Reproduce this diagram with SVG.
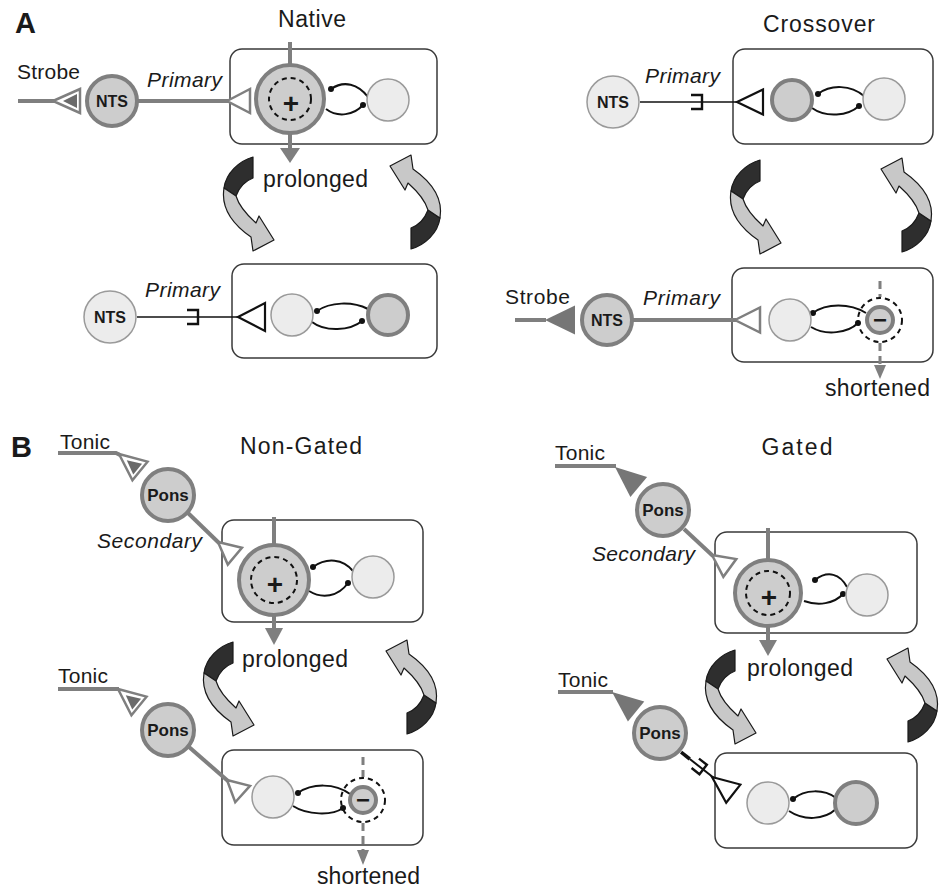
<svg xmlns="http://www.w3.org/2000/svg" width="946" height="890" viewBox="0 0 946 890">
<style>
 text { font-family: "Liberation Sans", Arial, sans-serif; fill: #1a1a1a; }
 .title { font-size: 23px; }
 .lbl { font-size: 23px; }
 .lbs { font-size: 21px; }
 .it { font-size: 21px; font-style: italic; }
 .panel { font-size: 29px; font-weight: bold; }
 .nlab { font-size: 16px; font-weight: bold; }
 .plab { font-size: 17px; font-weight: bold; }
 .sign { font-size: 28px; font-weight: bold; }
 .box { fill: #fff; stroke: #3a3a3a; stroke-width: 1.5; }
 .dk { fill: #cdcdcd; stroke: #7f7f7f; stroke-width: 4; }
 .lt { fill: #ececec; stroke: #9a9a9a; stroke-width: 1.5; }
 .gline { stroke: #7f7f7f; stroke-width: 4; fill: none; }
 .bline { stroke: #111; stroke-width: 1.6; fill: none; }
 .brk { stroke: #111; stroke-width: 2.4; fill: none; }
 .arc { stroke: #111; stroke-width: 2; fill: none; }
 .dash { fill: none; stroke: #111; stroke-width: 2; stroke-dasharray: 5 4; }
 .gdash { stroke: #7f7f7f; stroke-width: 3; stroke-dasharray: 8 5; fill: none; }
 .ghead { fill: #7f7f7f; }
 .dot { fill: #111; }
 .topen { fill: #fff; stroke: #7f7f7f; stroke-width: 2.5; stroke-linejoin: miter; }
 .tblack { fill: #fff; stroke: #111; stroke-width: 2.2; }
 .tin { fill: #6a6a6a; }
 .tfill { fill: #767676; }
 .tw-d { fill: #2e2e2e; stroke: #1a1a1a; stroke-width: 1.2; stroke-linejoin: round; }
 .tw-l { fill: #c8c8c8; stroke: #1a1a1a; stroke-width: 1.2; stroke-linejoin: round; }
</style>
<defs>
 <g id="twist">
  <path class="tw-d" d="M4,-46 L4,-25 C-4,-22 -10,-15 -13,-7 L-25,-15 C-23,-30 -10,-42 4,-46 Z"/>
  <path class="tw-l" d="M-25,-15 C-28,3 -18,20 2,34 L4,48 L25,37 L10,13 L7,20 C-2,12 -10,3 -13,-7 Z"/>
 </g>
 <g id="dtri">
  <polygon class="topen" points="0,0 27,-12 27,12"/>
  <polygon class="tin" points="10,0 24,-7 24,7"/>
 </g>
</defs>

<!-- labels -->
<g id="labels">
 <text class="panel" x="15" y="33">A</text>
 <text class="panel" x="11" y="457">B</text>
 <text class="title" x="312" y="27" text-anchor="middle" textLength="68">Native</text>
 <text class="title" x="819" y="32" text-anchor="middle" textLength="112">Crossover</text>
 <text class="title" x="301" y="454" text-anchor="middle" textLength="122">Non-Gated</text>
 <text class="title" x="797" y="455" text-anchor="middle" textLength="71">Gated</text>
 <text class="lbs" x="17" y="79" textLength="63">Strobe</text>
 <text class="lbs" x="505" y="304" textLength="65">Strobe</text>
 <text class="it" x="147" y="87" textLength="75">Primary</text>
 <text class="it" x="145" y="297" textLength="75">Primary</text>
 <text class="it" x="645" y="83" textLength="75">Primary</text>
 <text class="it" x="643" y="305" textLength="77">Primary</text>
 <text class="lbl" x="263" y="187" textLength="105">prolonged</text>
 <text class="lbl" x="242" y="667" textLength="106">prolonged</text>
 <text class="lbl" x="747" y="676" textLength="106">prolonged</text>
 <text class="lbl" x="825" y="396" textLength="105">shortened</text>
 <text class="lbl" x="317" y="884" textLength="103">shortened</text>
 <text class="lbs" x="60" y="449" textLength="50">Tonic</text>
 <text class="lbs" x="58" y="683" textLength="50">Tonic</text>
 <text class="lbs" x="555" y="460" textLength="50">Tonic</text>
 <text class="lbs" x="558" y="687" textLength="50">Tonic</text>
 <text class="it" x="97" y="548" textLength="105">Secondary</text>
 <text class="it" x="592" y="561" textLength="103">Secondary</text>
</g>

<!-- boxes -->
<g id="boxes">
 <rect id="box-native-1" class="box" x="230" y="49" width="207" height="95" rx="12"/>
 <rect id="box-native-2" class="box" x="232" y="264" width="205" height="94" rx="12"/>
 <rect id="box-cross-1" class="box" x="733" y="49" width="200" height="95" rx="12"/>
 <rect id="box-cross-2" class="box" x="732" y="268" width="201" height="94" rx="12"/>
 <rect id="box-ng-1" class="box" x="222" y="520" width="201" height="102" rx="12"/>
 <rect id="box-ng-2" class="box" x="222" y="750" width="201" height="95" rx="12"/>
 <rect id="box-g-1" class="box" x="715" y="532" width="202" height="101" rx="12"/>
 <rect id="box-g-2" class="box" x="715" y="753" width="202" height="95" rx="12"/>
</g>

<g id="connectors">
 <!-- twist transition arrows -->
 <use href="#twist" transform="translate(249,203)"/>
 <use href="#twist" transform="translate(415,203) rotate(180)"/>
 <use href="#twist" transform="translate(756,206)"/>
 <use href="#twist" transform="translate(906,206) rotate(180)"/>
 <use href="#twist" transform="translate(229,688)"/>
 <use href="#twist" transform="translate(411,688) rotate(180)"/>
 <use href="#twist" transform="translate(731,696)"/>
 <use href="#twist" transform="translate(912,696) rotate(180)"/>

 <!-- Native top -->
 <line class="gline" x1="18" y1="101" x2="54" y2="101"/>
 <use href="#dtri" transform="translate(53,101)"/>
 <line class="gline" x1="138" y1="101" x2="228" y2="101"/>
 <polygon class="topen" points="0,0 23,-12 23,12" transform="translate(227,101)"/>
 <line class="gline" x1="290" y1="42" x2="290" y2="66"/>
 <line class="gline" x1="290" y1="132" x2="290" y2="150"/>
 <polygon class="ghead" points="280,148 300,148 290,163"/>
 <path class="arc" d="M331,89 C344,80 358,84 368,97"/>
 <path class="arc" d="M326,109 C338,118 354,115 363,105"/>
 <circle class="dot" cx="331" cy="89" r="3"/>
 <circle class="dot" cx="363" cy="105" r="3"/>

 <!-- Native bottom -->
 <line class="bline" x1="137" y1="317" x2="238" y2="317"/>
 <path class="brk" d="M187,310 H198 V324 H187"/>
 <polygon class="tblack" points="0,0 27,-14 27,14" transform="translate(238,317)"/>
 <path class="arc" d="M317,311 C330,302 352,301 368,309"/>
 <path class="arc" d="M312,322 C325,332 350,331 362,321"/>
 <circle class="dot" cx="317" cy="311" r="3"/>
 <circle class="dot" cx="362" cy="321" r="3"/>

 <!-- Crossover top -->
 <line class="bline" x1="640" y1="102" x2="737" y2="102"/>
 <path class="brk" d="M691,95 H702 V109 H691"/>
 <polygon class="tblack" points="0,0 26,-12.5 26,12.5" transform="translate(737,102)"/>
 <path class="arc" d="M818,94 C831,84 851,85 864,96"/>
 <path class="arc" d="M812,108 C826,118 848,116 859,106"/>
 <circle class="dot" cx="818" cy="94" r="3"/>
 <circle class="dot" cx="859" cy="106" r="3"/>

 <!-- Crossover bottom -->
 <line class="gline" x1="515" y1="320" x2="546" y2="320"/>
 <polygon class="tfill" points="0,0 30,-14.5 30,14.5" transform="translate(545,320)"/>
 <line class="gline" x1="633" y1="320" x2="736" y2="320"/>
 <polygon class="topen" points="0,0 25,-12.5 25,12.5" transform="translate(735,320)"/>
 <path class="arc" d="M813,313 C826,303 850,303 866,313"/>
 <path class="arc" d="M811,327 C826,336 848,333 858,323"/>
 <circle class="dot" cx="813" cy="313" r="3"/>
 <circle class="dot" cx="858" cy="323" r="3"/>
 <line class="gdash" x1="880" y1="281" x2="880" y2="297"/>
 <line class="gdash" x1="880" y1="343" x2="880" y2="366"/>
 <polygon class="ghead" points="874,365 886,365 880,379"/>

 <!-- Non-Gated top -->
 <polyline class="gline" points="58,453 116,453 120,455"/>
 <use href="#dtri" transform="translate(119,454) rotate(39)"/>
 <line class="gline" x1="188" y1="513" x2="219" y2="543"/>
 <polygon class="topen" points="0,0 22,-11 22,11" transform="translate(218,542) rotate(40)"/>
 <line class="gline" x1="274" y1="517" x2="274" y2="545"/>
 <line class="gline" x1="274" y1="614" x2="274" y2="630"/>
 <polygon class="ghead" points="265,628 283,628 274,645"/>
 <path class="arc" d="M313,567 C327,557 343,559 353,571"/>
 <path class="arc" d="M309,591 C322,599 338,597 348,583"/>
 <circle class="dot" cx="313" cy="567" r="3"/>
 <circle class="dot" cx="348" cy="583" r="3"/>

 <!-- Non-Gated bottom -->
 <line class="gline" x1="58" y1="689" x2="119" y2="689"/>
 <use href="#dtri" transform="translate(118,689) rotate(39)"/>
 <line class="gline" x1="189" y1="747" x2="228" y2="781"/>
 <polygon class="topen" points="0,0 21,-11 21,11" transform="translate(227,780) rotate(42)"/>
 <path class="arc" d="M298,793 C312,783 335,783 350,794"/>
 <path class="arc" d="M293,806 C307,815 332,816 343,808"/>
 <circle class="dot" cx="298" cy="793" r="3"/>
 <circle class="dot" cx="343" cy="808" r="3"/>
 <line class="gdash" x1="363" y1="757" x2="363" y2="777"/>
 <line class="gdash" x1="363" y1="823" x2="363" y2="851"/>
 <polygon class="ghead" points="357,850 369,850 363,865"/>

 <!-- Gated top -->
 <line class="gline" x1="555" y1="466" x2="616" y2="466"/>
 <polygon class="tfill" points="0,0 31,-13 31,13" transform="translate(615,467) rotate(40)"/>
 <line class="gline" x1="684" y1="529" x2="713" y2="556"/>
 <polygon class="topen" points="0,0 22,-11 22,11" transform="translate(712,555) rotate(36)"/>
 <line class="gline" x1="768" y1="528" x2="768" y2="560"/>
 <line class="gline" x1="768" y1="626" x2="768" y2="642"/>
 <polygon class="ghead" points="759,640 777,640 768,656"/>
 <path class="arc" d="M815,580 C828,570 840,574 847,587"/>
 <path class="arc" d="M804,601 C818,606 834,604 843,594"/>
 <circle class="dot" cx="815" cy="580" r="3"/>
 <circle class="dot" cx="843" cy="594" r="3"/>

 <!-- Gated bottom -->
 <line class="gline" x1="558" y1="692" x2="613" y2="692"/>
 <polygon class="tfill" points="0,0 31,-13 31,13" transform="translate(612,692) rotate(39)"/>
 <g transform="translate(700,767) rotate(38)">
  <line stroke="#111" stroke-width="3.5" x1="-24" y1="0" x2="-13" y2="0"/>
  <line stroke="#111" stroke-width="2" x1="-13" y1="0" x2="17" y2="0"/>
  <path class="brk" d="M-6,-6 H4 V6 H-6"/>
 </g>
 <polygon class="tblack" points="0,0 27,-11.5 27,11.5" transform="translate(712,777) rotate(38)"/>
 <path class="arc" d="M793,799 C805,789 824,789 836,798"/>
 <path class="arc" d="M789,811 C804,821 824,820 836,809"/>
 <circle class="dot" cx="793" cy="799" r="3"/>
</g>

<!-- nodes -->
<g id="native-nts"><circle class="dk" cx="112" cy="101" r="25"/><text class="nlab" x="112" y="107" text-anchor="middle">NTS</text></g>
<g id="native-a"><circle class="dk" cx="290" cy="99" r="34"/><circle class="dash" cx="290" cy="99" r="21"/><text class="sign" x="291" y="113" text-anchor="middle">+</text></g>
<g id="native-b"><circle class="lt" cx="388" cy="100" r="21"/></g>

<g id="native2-nts"><circle class="lt" cx="110" cy="317" r="26"/><text class="nlab" x="110" y="323" text-anchor="middle">NTS</text></g>
<g id="native2-a"><circle class="lt" cx="292" cy="315" r="21"/></g>
<g id="native2-b"><circle class="dk" cx="388" cy="315" r="20"/></g>

<g id="cross-nts"><circle class="lt" cx="613" cy="102" r="26"/><text class="nlab" x="613" y="108" text-anchor="middle">NTS</text></g>
<g id="cross-a"><circle class="dk" cx="792" cy="100" r="20"/></g>
<g id="cross-b"><circle class="lt" cx="884" cy="99" r="21"/></g>

<g id="cross2-nts"><circle class="dk" cx="607" cy="320" r="25"/><text class="nlab" x="607" y="326" text-anchor="middle">NTS</text></g>
<g id="cross2-a"><circle class="lt" cx="790" cy="320" r="21"/></g>
<g id="cross2-b"><circle class="dk" cx="880" cy="320" r="13" stroke-width="3"/><circle class="dash" cx="880" cy="320" r="22"/><text x="880" y="328" text-anchor="middle" font-size="24" font-weight="bold">−</text></g>

<g id="ng-pons"><circle class="dk" cx="168" cy="495" r="26"/><text class="plab" x="168" y="501" text-anchor="middle">Pons</text></g>
<g id="ng-a"><circle class="dk" cx="274" cy="580" r="35"/><circle class="dash" cx="274" cy="580" r="23"/><text class="sign" x="275" y="594" text-anchor="middle">+</text></g>
<g id="ng-b"><circle class="lt" cx="373" cy="577" r="21"/></g>

<g id="ng2-pons"><circle class="dk" cx="168" cy="730" r="26"/><text class="plab" x="168" y="736" text-anchor="middle">Pons</text></g>
<g id="ng2-a"><circle class="lt" cx="273" cy="797" r="21"/></g>
<g id="ng2-b"><circle class="dk" cx="363" cy="800" r="13" stroke-width="3"/><circle class="dash" cx="363" cy="800" r="22"/><text x="363" y="808" text-anchor="middle" font-size="24" font-weight="bold">−</text></g>

<g id="g-pons"><circle class="dk" cx="663" cy="510" r="26"/><text class="plab" x="663" y="516" text-anchor="middle">Pons</text></g>
<g id="g-a"><circle class="dk" cx="768" cy="593" r="33"/><circle class="dash" cx="768" cy="593" r="22"/><text class="sign" x="769" y="607" text-anchor="middle">+</text></g>
<g id="g-b"><circle class="lt" cx="867" cy="595" r="21"/></g>

<g id="g2-pons"><circle class="dk" cx="660" cy="733" r="26"/><text class="plab" x="660" y="739" text-anchor="middle">Pons</text></g>
<g id="g2-a"><circle class="lt" cx="768" cy="803" r="21"/></g>
<g id="g2-b"><circle class="dk" cx="856" cy="803" r="21"/></g>
</svg>
